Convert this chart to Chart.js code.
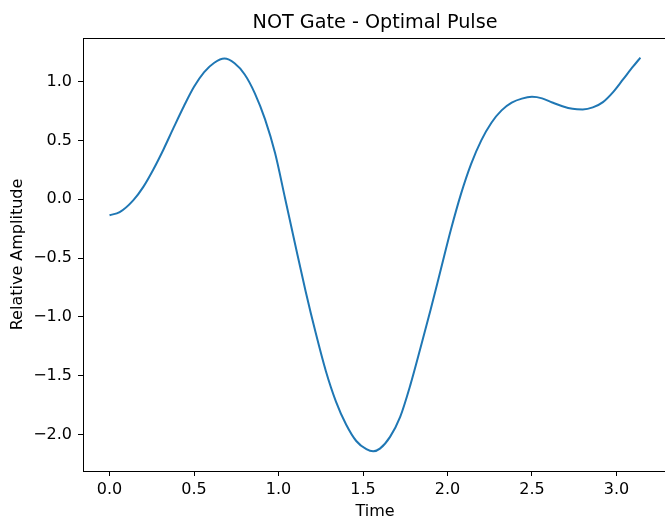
<!DOCTYPE html>
<html>
<head>
<meta charset="utf-8">
<title>NOT Gate - Optimal Pulse</title>
<script src="https://cdn.jsdelivr.net/npm/chart.js@4/dist/chart.umd.min.js"></script>
<style>
    html, body { margin: 0; padding: 0; background: #fff; overflow: hidden; }
    #wrap { width: 670px; height: 520px; }
</style>
</head>
<body>
<div id="wrap"><canvas id="pulseChart" width="670" height="520"></canvas></div>
<script>
// values
const timeValues = [0, 0.06, 0.14, 0.2, 0.26, 0.32, 0.38, 0.44, 0.5, 0.56, 0.62, 0.68, 0.74, 0.8, 0.86, 0.92, 0.98,
    1.04, 1.1, 1.16, 1.22, 1.28, 1.34, 1.4, 1.46, 1.52, 1.56, 1.6, 1.66, 1.72, 1.78, 1.84, 1.9, 1.96,
    2.02, 2.08, 2.14, 2.2, 2.26, 2.32, 2.38, 2.44, 2.5, 2.56, 2.62, 2.68, 2.74, 2.8, 2.86, 2.92, 2.98,
    3.04, 3.1, 3.1416];
const amplitudeValues = [-0.136, -0.11, -0.01, 0.105, 0.255, 0.425, 0.61, 0.79, 0.955, 1.08, 1.16, 1.195, 1.155, 1.06, 0.90, 0.68, 0.39,
    0.0, -0.394, -0.78, -1.136, -1.46, -1.72, -1.915, -2.055, -2.125, -2.143, -2.12, -2.02, -1.85, -1.58, -1.265, -0.94, -0.60,
    -0.26, 0.045, 0.30, 0.50, 0.65, 0.755, 0.82, 0.855, 0.87, 0.857, 0.822, 0.79, 0.768, 0.763, 0.78, 0.825, 0.91,
    1.02, 1.13, 1.203];
const xTickValues = [0, 0.5, 1.0, 1.5, 2.0, 2.5, 3.0];
const yTickValues = [-2.0, -1.5, -1.0, -0.5, 0, 0.5, 1.0];
const chartTitle = 'NOT Gate - Optimal Pulse';

const FONT = "'DejaVu Sans', sans-serif";
const fmt = v => v.toFixed(1).replace('-', '\u2212');

// matplotlib style box around the plot area + title centred on the axes
const frame = {
    id: 'frame',
    afterDraw(chart) {
        const { ctx, chartArea: a } = chart;
        ctx.save();
        ctx.strokeStyle = '#000';
        ctx.lineWidth = 1;
        ctx.strokeRect(Math.round(a.left) + 0.5, Math.round(a.top) + 0.5,
            Math.round(a.right - a.left), Math.round(a.bottom - a.top));
        ctx.fillStyle = '#000';
        ctx.font = '19.2px ' + FONT;
        ctx.textAlign = 'center';
        ctx.textBaseline = 'alphabetic';
        ctx.fillText(chartTitle, (a.left + a.right) / 2, 28);
        ctx.restore();
    }
};

new Chart(document.getElementById('pulseChart').getContext('2d'), {
    type: 'line',
    data: {
        datasets: [{
            label: 'Pulse',
            data: timeValues.map((t, i) => ({ x: t, y: amplitudeValues[i] })),
            borderColor: '#1f77b4',
            borderWidth: 2,
            pointRadius: 0,
            cubicInterpolationMode: 'monotone',
            fill: false
        }]
    },
    options: {
        responsive: false,
        animation: false,
        layout: { padding: { left: 0, right: 3, top: 38, bottom: 0 } },
        scales: {
            x: {
                type: 'linear',
                min: -0.157,
                max: 3.299,
                afterBuildTicks: s => { s.ticks = xTickValues.map(v => ({ value: v })); },
                afterFit: s => { s.height = 49; },
                border: { display: false },
                grid: { drawOnChartArea: false, drawTicks: true, tickLength: 5, color: '#000', lineWidth: 1 },
                ticks: {
                    color: '#000', padding: 4, maxRotation: 0, autoSkip: false,
                    font: { family: FONT, size: 16 },
                    callback: v => fmt(v)
                },
                title: {
                    display: true, text: 'Time', color: '#000',
                    font: { family: FONT, size: 16, lineHeight: 1 },
                    padding: { top: 0, bottom: 0 }
                }
            },
            y: {
                type: 'linear',
                min: -2.31,
                max: 1.37,
                afterBuildTicks: s => { s.ticks = yTickValues.map(v => ({ value: v })); },
                afterFit: s => { s.width = 83; },
                border: { display: false },
                grid: { drawOnChartArea: false, drawTicks: true, tickLength: 5, color: '#000', lineWidth: 1 },
                ticks: {
                    color: '#000', padding: 6, autoSkip: false,
                    font: { family: FONT, size: 16 },
                    callback: v => fmt(v)
                },
                title: {
                    display: true, text: 'Relative Amplitude', color: '#000',
                    font: { family: FONT, size: 16 },
                    padding: { top: 8, bottom: 0 }
                }
            }
        },
        plugins: {
            legend: { display: false },
            tooltip: { enabled: false },
            title: { display: false }
        }
    },
    plugins: [frame]
});
</script>
</body>
</html>
